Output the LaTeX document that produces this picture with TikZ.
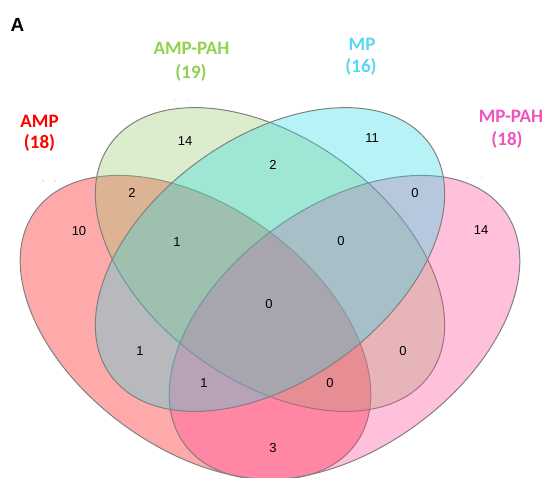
\documentclass[tikz,border=0pt]{standalone}
\usepackage{fontspec}
\setmainfont{Liberation Sans}
\newfontfamily\labfont{Carlito}
\definecolor{cRed}{RGB}{255,0,0}
\definecolor{cGreen}{RGB}{150,201,105}
\definecolor{cCyan}{RGB}{39,216,228}
\definecolor{cPink}{RGB}{255,66,150}
\definecolor{tRed}{RGB}{255,0,0}
\definecolor{tGreen}{RGB}{146,208,80}
\definecolor{tCyan}{RGB}{91,213,246}
\definecolor{tPink}{RGB}{238,84,190}
\definecolor{edge}{RGB}{128,128,128}
\begin{document}
\begin{tikzpicture}[x=1pt,y=-1pt,
  setfill/.style={fill=#1, fill opacity=0.333, draw=edge, draw opacity=1, line width=1pt},
  lbl/.style={inner sep=0pt, font=\labfont\bfseries\fontsize{19}{23}\selectfont},
  num/.style={inner sep=0pt, font=\fontsize{13}{15}\selectfont},
  speck/.style={fill=#1, fill opacity=0.6}]
\useasboundingbox[fill=white] (0,0) rectangle (546,477);
% ellipses (drawn in order: AMP, AMP-PAH, MP-PAH, MP)
\path[setfill=cRed, shift={(195.5,327.5)}, rotate=-36] (0,0) ellipse [x radius=198, y radius=121];
\path[setfill=cGreen, shift={(270,259.5)}, rotate=-36] (0,0) ellipse [x radius=197, y radius=121.5];
\path[setfill=cPink, shift={(344.5,327.5)}, rotate=36] (0,0) ellipse [x radius=198, y radius=121];
\path[setfill=cCyan, shift={(270,259.5)}, rotate=36] (0,0) ellipse [x radius=197, y radius=121.5];
% panel letter
\node[inner sep=0pt, font=\bfseries\fontsize{19}{22}\selectfont] (panel) at (17.5,24.5) {A};
% set labels
\node[lbl, text=tRed] (ampA) at (39.5,121.7) {AMP};
\node[lbl, text=tRed] (ampB) at (39.5,143) {(18)};
\node[lbl, text=tGreen] (apahA) at (191.5,48.8) {AMP-PAH};
\node[lbl, text=tGreen] (apahB) at (191,73) {(19)};
\node[lbl, text=tCyan] (mpA) at (362,44.5) {MP};
\node[lbl, text=tCyan] (mpB) at (361,66.7) {(16)};
\node[lbl, text=tPink] (mpahA) at (511,116.7) {MP-PAH};
\node[lbl, text=tPink] (mpahB) at (507,140) {(18)};
% tiny specks under labels
\fill[speck=tGreen] (175,100) circle (0.7) (189,100) circle (0.7);
\fill[speck=tCyan] (342,99) circle (0.7) (356,99) circle (0.7);
\fill[speck=tRed] (43,181) circle (0.7) (55,181) circle (0.7);
\fill[speck=tPink] (467,178) circle (0.7) (482,178) circle (0.7);
% region counts
\node[num] (n1) at (185,141) {14};
\node[num] (n2) at (132,193) {2};
\node[num] (n3) at (79,231) {10};
\node[num] (n4) at (273,165) {2};
\node[num] (n5) at (372,138) {11};
\node[num] (n6) at (415,193) {0};
\node[num] (n7) at (481,230) {14};
\node[num] (n8) at (177,242) {1};
\node[num] (n9) at (341,241) {0};
\node[num] (n10) at (269,304) {0};
\node[num] (n11) at (140,351) {1};
\node[num] (n12) at (403,351) {0};
\node[num] (n13) at (204,383) {1};
\node[num] (n14) at (330,383) {0};
\node[num] (n15) at (273,448) {3};
\end{tikzpicture}
\end{document}
